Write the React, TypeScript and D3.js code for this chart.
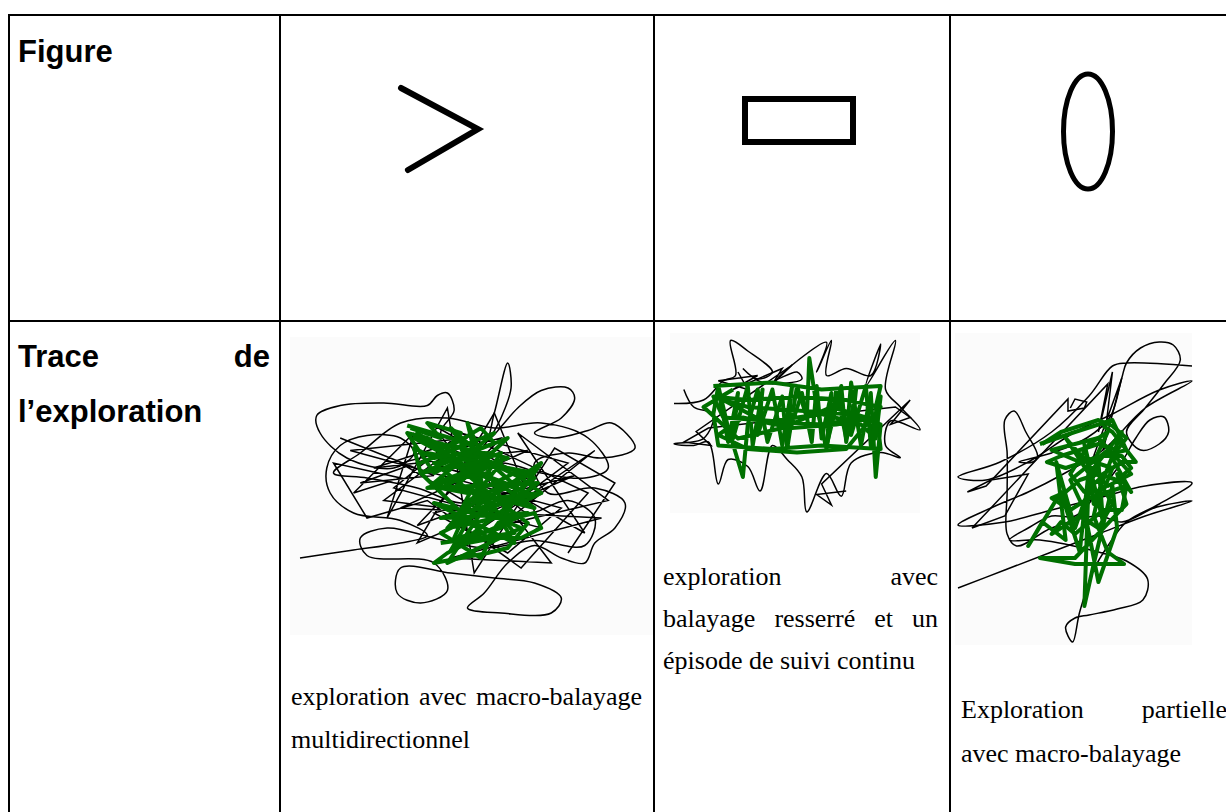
import * as d3 from 'd3'
import { useRef, useEffect } from 'react'

type Pt = [number, number]

// row headers
const headerFigure = ['Figure']
const headerTrace = ['Trace de', 'l’exploration']

// captions under each trace
const captionCol1 = ['exploration avec macro-balayage', 'multidirectionnel']
const captionCol2 = ['exploration avec', 'balayage resserré et un', 'épisode de suivi continu']
const captionCol3 = ['Exploration partielle', 'avec macro-balayage']

// figure shapes (0-100 units inside each figure box)
const chevron: Pt[] = [[0, 0], [100, 50], [9, 100]]
const rectangle: Pt[] = [[0, 0], [100, 100]]
const ellipse: Pt[] = [[50, 50], [50, 50]]

// trace 1 : macro-balayage multidirectionnel
const trace1Loop: Pt[] = [
  [0, 78], [15, 75], [30, 72], [38, 69], [30, 63], [16, 60], [9, 52], [8, 42], [12, 33], [20, 29],
  [30, 30], [34, 36], [28, 42], [14, 38], [6, 28], [5, 21], [12, 17], [25, 16], [38, 17], [41, 13],
  [44, 12], [46, 19], [42, 28], [48, 36], [55, 33], [58, 20], [62, 0], [63, 10], [60, 22], [57, 30],
  [65, 18], [72, 11], [80, 10], [82, 14], [78, 22], [70, 28], [76, 30], [86, 27], [93, 24], [100, 34],
  [90, 38], [80, 36], [70, 40], [74, 52], [88, 50], [97, 56], [94, 66], [88, 72], [85, 80], [78, 78],
  [70, 73], [62, 80], [55, 92], [50, 98], [60, 100], [75, 100], [78, 94], [70, 88], [58, 86], [45, 84],
  [30, 82], [29, 92], [36, 96], [44, 91], [40, 80], [20, 77], [18, 70], [26, 66], [40, 70], [55, 74],
  [70, 71], [85, 73], [88, 62], [80, 55], [68, 60], [60, 52], [48, 56], [35, 50], [20, 46], [10, 44],
  [18, 36], [30, 24], [44, 22], [58, 26], [72, 24], [86, 30], [92, 42], [85, 46], [72, 44], [60, 40],
  [50, 44], [40, 40]
]
const trace1Zigzag: Pt[] = [
  [12, 30], [40, 45], [18, 48], [45, 35], [25, 55], [55, 60], [30, 40], [60, 30], [35, 65], [70, 48],
  [40, 25], [80, 40], [50, 70], [88, 35], [60, 65], [92, 55], [65, 28], [85, 68], [55, 45], [75, 80],
  [45, 78], [90, 62], [30, 58], [68, 35], [22, 42], [50, 30], [15, 35], [78, 58], [62, 76], [40, 60],
  [82, 45], [35, 72], [58, 20], [72, 66], [28, 50], [48, 28], [86, 52], [66, 82], [38, 55], [20, 62],
  [10, 40], [30, 46], [16, 52], [34, 28], [26, 62], [44, 18], [52, 84], [76, 34], [94, 48], [80, 76]
]
const trace1Green: Pt[] = [
  [32, 25], [50, 32], [36, 40], [58, 28], [40, 48], [62, 38], [34, 30], [55, 45], [45, 26], [65, 50],
  [38, 36], [70, 44], [50, 55], [72, 52], [42, 62], [68, 60], [48, 72], [60, 48], [44, 80], [66, 66],
  [52, 58], [72, 40], [56, 70], [36, 44], [62, 30], [46, 50], [70, 58], [50, 40], [64, 72], [40, 56],
  [58, 62], [48, 34], [66, 46], [54, 78], [42, 68], [60, 56], [35, 28], [52, 44], [68, 52], [46, 64],
  [57, 36], [40, 40], [63, 64], [50, 24], [55, 52], [45, 75], [71, 48], [38, 50], [60, 40], [48, 60]
]
const trace1GreenDense: Pt[] = [
  [33, 26], [42, 30], [38, 24], [48, 28], [44, 34], [54, 26], [58, 32], [50, 36], [40, 38], [34, 34],
  [36, 44], [44, 42], [52, 40], [60, 36], [56, 44], [48, 46], [42, 50], [50, 52], [58, 48], [64, 44],
  [68, 48], [72, 52], [66, 56], [60, 54], [54, 58], [48, 60], [44, 66], [52, 64], [58, 62], [64, 62],
  [70, 60], [72, 66], [66, 70], [58, 70], [50, 72], [44, 76], [40, 80], [48, 78], [56, 76], [62, 74],
  [68, 64], [62, 58], [56, 52], [50, 58], [46, 70], [54, 68], [60, 66], [64, 52], [70, 46], [62, 42],
  [54, 38], [46, 36], [38, 30], [32, 28], [40, 44], [46, 40], [52, 46], [58, 58], [64, 68], [42, 72]
]

// trace 2 : balayage resserré + suivi continu
const trace2Loop: Pt[] = [
  [0, 38], [12, 36], [20, 25], [25, 22], [23, 2], [30, 8], [40, 20], [34, 24], [28, 18], [36, 26],
  [52, 24], [50, 20], [42, 24], [62, 3], [58, 20], [64, 2], [62, 22], [70, 18], [80, 22], [84, 4],
  [78, 28], [90, 2], [86, 30], [92, 40], [100, 53], [88, 48], [86, 62], [92, 69], [84, 66], [72, 72],
  [68, 91], [62, 78], [54, 100], [52, 80], [46, 70], [40, 62], [35, 88], [30, 74], [22, 70], [18, 84],
  [14, 60], [8, 62], [0, 61], [12, 58], [16, 44], [8, 40], [4, 30]
]
const trace2Zigzag: Pt[] = [
  [26, 20], [30, 30], [18, 25], [34, 22], [24, 30], [44, 18], [40, 27], [48, 16], [9, 54], [15, 62],
  [4, 60], [14, 52], [90, 40], [96, 46], [88, 50], [96, 36], [60, 84], [64, 96], [58, 90], [70, 88]
]
const trace2Green: Pt[] = [
  [16, 28], [40, 26], [60, 30], [84, 28], [82, 40], [84, 64], [60, 62], [40, 64], [18, 62], [16, 44],
  [18, 28], [22, 52], [28, 80], [30, 50], [34, 30], [38, 60], [44, 34], [46, 64], [50, 28], [54, 46],
  [55, 12], [58, 40], [62, 64], [66, 30], [70, 58], [72, 26], [76, 62], [80, 32], [82, 80], [84, 50],
  [70, 44], [50, 42], [30, 40], [20, 36], [36, 48], [60, 50], [78, 46], [64, 40], [44, 52], [26, 58],
  [12, 40], [24, 30]
]
const trace2GreenDense: Pt[] = [
  [18, 30], [22, 60], [26, 32], [24, 58], [30, 28], [32, 62], [36, 30], [34, 56], [40, 30], [44, 62],
  [48, 28], [46, 58], [52, 32], [56, 60], [58, 28], [60, 58], [64, 32], [62, 62], [68, 28], [70, 60],
  [74, 30], [72, 56], [78, 28], [80, 62], [84, 34], [82, 58], [76, 50], [60, 44], [40, 48], [20, 46],
  [16, 34], [30, 36], [50, 34], [70, 36], [84, 40], [70, 64], [50, 66], [30, 64], [18, 56], [28, 46],
  [48, 52], [66, 50], [82, 46]
]

// trace 3 : exploration partielle
const trace3Loop: Pt[] = [
  [0, 82], [20, 76], [40, 70], [60, 64], [80, 58], [100, 53], [85, 55], [70, 60], [60, 58], [40, 62],
  [25, 68], [21, 64], [21, 50], [21, 37], [20, 26], [24, 23], [29, 30], [34, 38], [32, 40], [26, 40],
  [40, 37], [55, 32], [65, 25], [70, 12], [72, 7], [78, 2], [86, 0], [92, 1], [95, 6], [88, 14],
  [80, 22], [72, 30], [78, 36], [86, 34], [90, 30], [88, 25], [82, 26], [76, 32], [70, 40], [60, 50],
  [50, 58], [40, 58], [30, 62], [22, 66], [35, 66], [60, 70], [72, 73], [81, 79], [79, 86], [68, 89],
  [56, 91], [50, 92], [46, 95], [49, 100], [52, 90], [58, 76], [64, 68], [72, 60], [86, 54], [100, 47],
  [80, 48], [60, 52], [40, 56], [20, 60], [0, 61], [15, 55], [30, 50], [45, 44], [62, 36], [80, 22],
  [100, 13], [86, 16], [66, 24], [50, 30], [30, 40], [12, 46], [0, 45], [18, 40], [40, 30], [56, 18],
  [66, 8], [72, 7], [100, 8]
]
const trace3Zigzag: Pt[] = [
  [48, 22], [50, 19], [55, 20], [54, 22], [47, 23], [47, 19], [12, 48], [4, 50], [14, 46], [30, 44],
  [20, 58], [6, 62], [64, 14], [60, 30], [66, 10], [62, 36], [70, 12], [58, 38]
]
const trace3Green: Pt[] = [
  [35, 34], [50, 30], [66, 26], [72, 36], [52, 40], [40, 36], [60, 32], [74, 44], [64, 48], [46, 32],
  [56, 44], [70, 30], [58, 54], [54, 34], [62, 60], [60, 40], [50, 62], [42, 40], [46, 66], [36, 60],
  [30, 68], [44, 50], [52, 70], [56, 42], [54, 88], [58, 74], [66, 48], [68, 62], [60, 80], [54, 56],
  [48, 46], [64, 36], [74, 50], [68, 44], [72, 54], [50, 72], [35, 72], [50, 74], [71, 74], [64, 70],
  [58, 58], [62, 44], [70, 40], [76, 40], [66, 30], [62, 28]
]
const trace3GreenDense: Pt[] = [
  [36, 34], [44, 30], [52, 28], [60, 26], [66, 28], [72, 32], [68, 36], [60, 34], [52, 36], [44, 38],
  [38, 40], [46, 42], [54, 40], [62, 38], [70, 38], [74, 42], [68, 46], [60, 44], [52, 46], [46, 50],
  [40, 52], [48, 56], [56, 52], [64, 50], [72, 48], [70, 56], [62, 56], [56, 60], [50, 64], [44, 60],
  [40, 64], [52, 58], [60, 62], [66, 54], [60, 46], [54, 50], [48, 44], [56, 34], [64, 30], [58, 40],
  [66, 42], [62, 50]
]

const W = 1226
const H = 812
const colX = [9, 280, 654, 950]
const rowY = [15, 321]
const GREEN = '#007000'

const panels = [
  { loop: trace1Loop, zig: trace1Zigzag, green: [trace1Green, trace1GreenDense], x: [300, 635], y: [363, 613], bg: [290, 337, 365, 298] },
  { loop: trace2Loop, zig: trace2Zigzag, green: [trace2Green, trace2GreenDense], x: [674, 920], y: [337, 512], bg: [670, 333, 250, 180] },
  { loop: trace3Loop, zig: trace3Zigzag, green: [trace3Green, trace3GreenDense], x: [958, 1192], y: [342, 642], bg: [955, 333, 237, 312] }
]

type Sel = d3.Selection<SVGGElement, unknown, null, undefined>

function writeLines(g: Sel, lines: string[], x0: number, x1: number, y0: number, dy: number) {
  lines.forEach((line, i) => {
    const y = y0 + i * dy
    const words = line.split(' ')
    if (i === lines.length - 1 || words.length === 1) {
      g.append('text').attr('x', x0).attr('y', y).text(line)
      return
    }
    const nodes = words.map(w => g.append('text').attr('y', y).text(w))
    const widths = nodes.map(n => (n.node() as SVGTextElement).getComputedTextLength())
    const gap = (x1 - x0 - d3.sum(widths)) / (words.length - 1)
    let x = x0
    nodes.forEach((n, k) => {
      n.attr('x', x)
      x += widths[k] + gap
    })
  })
}

export default function App() {
  const svgRef = useRef<SVGSVGElement>(null)

  useEffect(() => {
    const svg = d3.select(svgRef.current)
    svg.selectAll('*').remove()
    svg.append('rect').attr('width', W).attr('height', H).attr('fill', '#fff')

    // trace images
    panels.forEach(p => {
      const xs = d3.scaleLinear().domain([0, 100]).range(p.x)
      const ys = d3.scaleLinear().domain([0, 100]).range(p.y)
      const g = svg.append('g')
      g.append('rect')
        .attr('x', p.bg[0]).attr('y', p.bg[1]).attr('width', p.bg[2]).attr('height', p.bg[3])
        .attr('fill', '#fbfbfb')
      const smooth = d3.line<Pt>().x(d => xs(d[0])).y(d => ys(d[1])).curve(d3.curveCatmullRom.alpha(0.5))
      const straight = d3.line<Pt>().x(d => xs(d[0])).y(d => ys(d[1]))
      g.append('path').attr('d', smooth(p.loop)).attr('fill', 'none')
        .attr('stroke', '#000').attr('stroke-width', 1.5)
      g.append('path').attr('d', straight(p.zig)).attr('fill', 'none')
        .attr('stroke', '#000').attr('stroke-width', 1.5)
      p.green.forEach(gr => {
        g.append('path').attr('d', straight(gr)).attr('fill', 'none')
          .attr('stroke', GREEN).attr('stroke-width', 4).attr('stroke-linejoin', 'round')
      })
    })

    // figures
    const fig = svg.append('g').attr('fill', 'none').attr('stroke', '#000')
    const cx = d3.scaleLinear().domain([0, 100]).range([401, 478])
    const cy = d3.scaleLinear().domain([0, 100]).range([88, 170])
    fig.append('path')
      .attr('d', d3.line<Pt>().x(d => cx(d[0])).y(d => cy(d[1]))(chevron))
      .attr('stroke-width', 6).attr('stroke-linecap', 'round').attr('stroke-linejoin', 'miter')
    const rx = d3.scaleLinear().domain([0, 100]).range([745, 853])
    const ry = d3.scaleLinear().domain([0, 100]).range([99, 142])
    fig.append('rect')
      .attr('x', rx(rectangle[0][0])).attr('y', ry(rectangle[0][1]))
      .attr('width', rx(rectangle[1][0]) - rx(rectangle[0][0]))
      .attr('height', ry(rectangle[1][1]) - ry(rectangle[0][1]))
      .attr('stroke-width', 6)
    const ex = d3.scaleLinear().domain([0, 100]).range([1063.5, 1112.5])
    const ey = d3.scaleLinear().domain([0, 100]).range([74, 189])
    fig.append('ellipse')
      .attr('cx', ex(ellipse[0][0])).attr('cy', ey(ellipse[0][1]))
      .attr('rx', ex(ellipse[1][0]) - ex(0)).attr('ry', ey(ellipse[1][1]) - ey(0))
      .attr('stroke-width', 5)

    // table grid
    const grid = svg.append('g').attr('stroke', '#000').attr('stroke-width', 2)
    rowY.forEach(y => grid.append('line').attr('x1', colX[0] - 1).attr('x2', W + 20).attr('y1', y).attr('y2', y))
    colX.forEach(x => grid.append('line').attr('x1', x).attr('x2', x).attr('y1', rowY[0] - 1).attr('y2', H + 10))

    // header text
    const head = svg.append('g')
      .attr('font-family', '"Liberation Sans", Arial, sans-serif')
      .attr('font-weight', 'bold').attr('font-size', 31).attr('fill', '#000')
    writeLines(head, headerFigure, 18, 270, 62, 55)
    writeLines(head, headerTrace, 18, 270, 367, 55)

    // captions
    const cap = svg.append('g')
      .attr('font-family', '"Liberation Serif", "Times New Roman", serif')
      .attr('font-size', 26).attr('fill', '#000')
    writeLines(cap, captionCol1, 291, 642, 705, 43)
    writeLines(cap, captionCol2, 663, 938, 585, 42)
    writeLines(cap, captionCol3, 961, 1227, 718, 44)
  }, [])

  return (
    <svg ref={svgRef} width={W} height={H}
      style={{ position: 'absolute', left: 0, top: 0, display: 'block' }} />
  )
}
